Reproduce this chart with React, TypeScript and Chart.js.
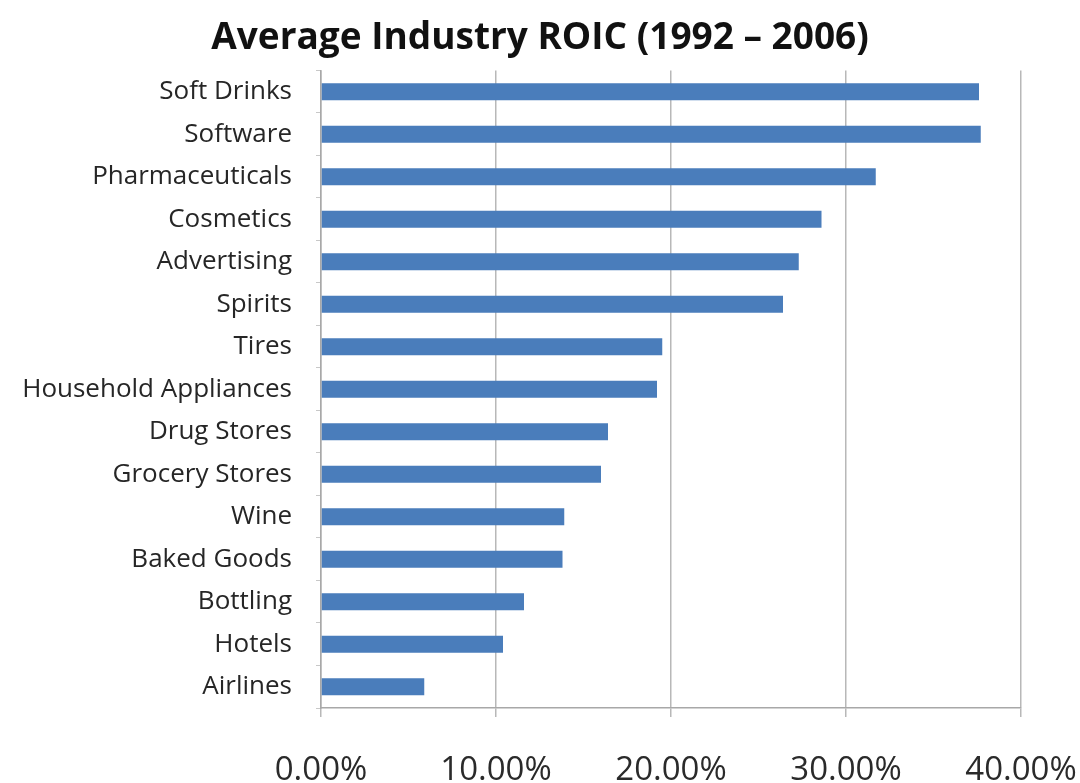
import React, { useEffect, useRef } from "react";
import { Chart, registerables } from "chart.js";

Chart.register(...registerables);

const industries = [
  "Soft Drinks",
  "Software",
  "Pharmaceuticals",
  "Cosmetics",
  "Advertising",
  "Spirits",
  "Tires",
  "Household Appliances",
  "Drug Stores",
  "Grocery Stores",
  "Wine",
  "Baked Goods",
  "Bottling",
  "Hotels",
  "Airlines",
];

const roicValues = [37.6, 37.7, 31.7, 28.6, 27.3, 26.4, 19.5, 19.2, 16.4, 16.0, 13.9, 13.8, 11.6, 10.4, 5.9];

const xTickValues = [0, 10, 20, 30, 40];

const titleText = "Average Industry ROIC (1992 \u2013 2006)";

export default function App() {
  const canvasRef = useRef<HTMLCanvasElement | null>(null);

  useEffect(() => {
    const canvas = canvasRef.current;
    if (!canvas) return;
    const chart = new Chart(canvas, {
      type: "bar",
      data: {
        labels: industries,
        datasets: [
          {
            label: "ROIC",
            data: roicValues,
            backgroundColor: "#4a7dbb",
            borderWidth: 0,
            barPercentage: 0.4,
            categoryPercentage: 1,
          },
        ],
      },
      options: {
        indexAxis: "y",
        animation: false,
        responsive: false,
        maintainAspectRatio: false,
        layout: { padding: 0 },
        plugins: {
          legend: { display: false },
          tooltip: { enabled: false },
          title: {
            display: true,
            text: titleText,
            color: "#111111",
            font: { family: "'Open Sans', sans-serif", size: 37, weight: "bold", lineHeight: 1.2 },
            padding: { top: 16, bottom: 10 },
          },
        },
        scales: {
          x: {
            min: 0,
            max: 40,
            afterBuildTicks: (scale: any) => {
              scale.ticks = xTickValues.map((v) => ({ value: v }));
            },
            afterFit: (scale: any) => {
              scale.height = 75;
              scale.paddingRight = 59;
              scale.paddingLeft = 0;
            },
            grid: {
              color: "#b8b8b8",
              lineWidth: 1.5,
              tickLength: 9,
            },
            border: { color: "#a8a8a8", width: 1.5 },
            ticks: {
              padding: 34,
              color: "#2a2a2a",
              font: { family: "'Open Sans', sans-serif", size: 33 },
              callback: (v: any) => Number(v).toFixed(2) + "%",
              maxRotation: 0,
            },
          },
          y: {
            afterFit: (scale: any) => {
              scale.width = 321;
              scale.paddingTop = 0;
              scale.paddingBottom = 0;
            },
            grid: {
              drawOnChartArea: false,
              drawTicks: true,
              tickLength: 5,
              color: "#c8c8c8",
            },
            border: { color: "#a8a8a8", width: 1.5 },
            ticks: {
              padding: 24,
              color: "#262626",
              font: { family: "'Open Sans', sans-serif", size: 26 },
              autoSkip: false,
            },
          },
        },
      },
    });
    return () => chart.destroy();
  }, []);

  return (
    <div style={{ position: "fixed", left: 0, top: 0, width: 1080, height: 783, background: "#ffffff" }}>
      <canvas ref={canvasRef} width={1080} height={783} />
    </div>
  );
}
